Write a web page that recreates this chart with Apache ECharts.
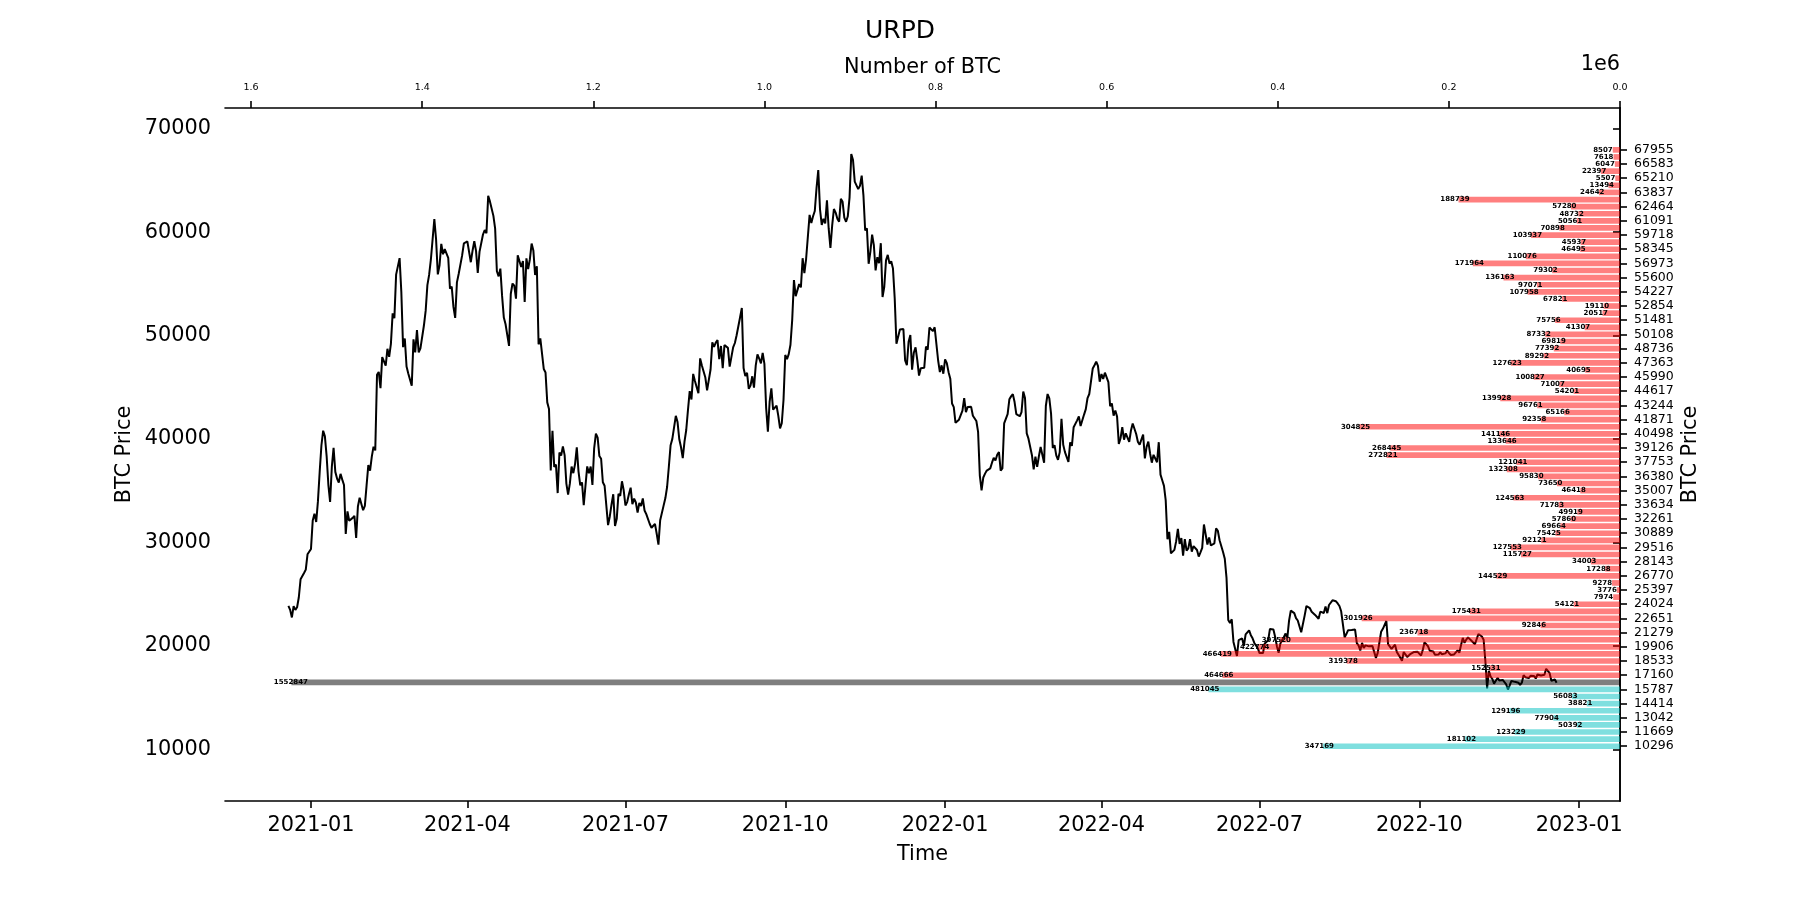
<!DOCTYPE html>
<html>
<head>
<meta charset="utf-8">
<script src="https://cdn.jsdelivr.net/npm/echarts@6/dist/echarts.min.js"></script>
<style>
html,body{margin:0;padding:0;background:#fff;}
#chart{width:1800px;height:900px;}
</style>
</head>
<body>
<div id="chart"></div>
<script>
// ---------------- DATA ----------------
// Daily BTC price, one value per day starting at this date
const priceStartDate = '2020-12-19';
const btcPrice = [
// 2020-12-19 .. 2020-12-31
23870,23480,22750,23840,23480,23730,24700,26440,26250,27040,27370,28850,29000,
// 2021-01
29370,32130,32780,31970,33990,36820,39370,40800,40250,38350,35570,33920,37320,39150,36820,36180,35790,36630,36070,35550,30820,33000,32100,32290,32370,32570,30430,33470,34320,34270,33110,
// 2021-02
33540,35510,37470,36930,38290,39260,38900,46200,46480,44920,47910,47500,47100,48720,47940,49200,52150,51680,55890,56000,57490,54210,48880,49710,47010,46340,46190,45140,
// 2021-03
49630,48380,50540,48370,48760,48880,50970,52380,54880,55860,57330,57230,61250,59300,55910,56800,58870,57860,58350,58310,57520,54530,54740,52770,51700,55140,55950,55980,57750,58920,58920,
// 2021-04
59100,59000,57090,58210,59120,58180,56050,58090,58100,59770,60200,59890,63500,62970,63110,61570,60340,56220,55720,56470,53830,51740,51090,50050,49000,54020,55030,54820,53560,57750,
// 2021-05
57830,56630,57210,53240,57470,56430,57380,58890,58230,55860,56700,49150,49720,49880,46760,46430,43540,42910,36960,40780,37300,37530,34770,38700,38400,39290,38440,35690,34620,35680,37330,
// 2021-06
36700,37570,39190,36850,35520,35800,33590,33470,37350,36690,37340,35550,39100,40520,40140,38350,38090,35820,35480,35600,31680,32510,33680,34660,31590,32280,34700,34490,35910,35040,
// 2021-07
33570,33900,34660,35290,33690,34230,33860,32880,33810,33510,34260,33090,32730,32820,31780,31420,31530,31800,30840,29790,32140,32310,33580,34290,35380,37340,39400,40010,40030,42240,41630,
// 2021-08
39970,39200,38150,39750,40870,42820,44630,43820,46290,45600,45590,44430,47790,47100,47050,45940,44700,44800,46720,49340,48900,49320,49550,47710,48990,46850,49080,48900,48810,46990,47160,
// 2021-09
48850,49280,50030,49940,51770,52660,46860,46080,46400,44850,45160,46060,44960,47090,48180,47780,47310,48310,47260,43000,40700,43580,44890,42840,42720,43210,42240,41030,41520,43790,
// 2021-10
48120,47710,48200,49110,51510,55360,53810,53970,54970,54660,57480,56040,57400,57320,61670,60880,61530,62040,64260,65990,62210,60690,61290,60850,63080,60330,58470,60620,62230,61890,61300,
// 2021-11
61000,63230,62930,61400,61000,61530,63330,67540,66970,64880,64950,64160,64470,65470,63560,60160,60370,56940,58120,59760,58730,56290,57570,56990,58930,53730,54720,57270,57800,56950,
// 2021-12
57180,56480,53600,49200,49370,50580,50470,50640,47590,47140,49390,50050,46700,48340,48860,47630,46130,46830,46680,46880,48940,48630,50780,50820,50430,50800,50640,47590,46470,47120,46310,
// 2022-01
47690,47340,46460,45830,43430,43080,41560,41730,41870,41820,42740,43950,42590,43100,43180,43110,42250,42380,41740,40680,36460,35030,36280,36650,36950,36810,37160,37710,38170,37920,38480,
// 2022-02
38740,36950,37150,41500,41440,42410,43840,44120,44340,43570,42410,42240,42200,42590,44580,43960,40540,40030,40120,38430,37070,38290,37300,38330,39220,39110,37710,43190,
// 2022-03
44350,43920,42450,39140,39400,38420,37990,38730,41940,39440,38730,38810,37790,39670,39340,41140,40950,41800,42190,41250,41080,42360,42890,43960,44350,44500,46820,47130,47470,47060,45540,
// 2022-04
46280,45810,46410,46580,45500,43170,43440,42250,42750,42160,39530,40070,41150,39930,40550,40410,39720,40830,41500,41370,40480,39710,39450,39450,40430,38120,39240,39740,38600,37710,
// 2022-05
38470,38530,37750,39690,36550,36010,35470,34060,30300,31020,28940,29050,29280,30100,31300,29860,30420,28720,30310,29200,29430,30320,29100,29650,29560,29270,28630,29030,29470,31730,31800,
// 2022-06
29800,30470,29700,29860,29910,31370,31130,30210,30110,29080,28420,26570,22490,22210,22570,20380,20470,19020,20550,20720,20720,19990,21110,21230,21500,21030,20730,20280,20100,19780,
// 2022-07
19300,19250,19300,20230,20190,20550,21640,21590,21590,20860,19970,19330,20210,20570,20830,21190,20780,22430,23400,23230,23160,22680,22450,22580,21310,21250,22950,23850,23780,23640,23300,
// 2022-08
23270,22990,22820,22620,23310,23170,23180,23810,23160,23950,23930,24400,24440,24310,24100,23850,23340,23190,20830,21140,21520,21400,21530,21370,21570,20260,20040,19550,20290,19800,20050,
// 2022-09
20130,19950,19830,19990,19800,18840,19290,19320,21360,21650,21830,22400,20170,20230,19700,19800,20110,19420,19540,18880,18550,19410,19300,18930,18800,19230,19080,19410,19590,19420,
// 2022-10
19310,19060,19620,20340,20160,19960,19530,19420,19450,19140,19050,19160,19380,19180,19070,19270,19550,19330,19120,19040,19170,19200,19570,19330,20090,20770,20290,20600,20820,20630,20490,
// 2022-11
20480,20160,20210,21150,21300,20900,20590,18540,15880,17590,17040,16800,16350,16620,16900,16660,16680,16700,16700,16280,15780,16190,16610,16600,16520,16460,16440,16220,16440,17170,
// 2022-12-01 .. 2022-12-19
16970,17090,16890,17110,16970,17090,16840,17230,17130,17130,17090,17210,17780,17810,17360,16630,16780,16740,16440
];

// URPD bins (price level of each bar, bottom to top) and BTC amount in each bin
const binPrice = [
10296,10982,11669,12355,13042,13728,14414,15101,15787,16473,
17160,17846,18533,19219,19906,20592,21279,21965,22651,23338,
24024,24711,25397,26084,26770,27456,28143,28829,29516,30202,
30889,31575,32261,32948,33634,34321,35007,35693,36380,37066,
37753,38439,39126,39812,40498,41185,41871,42558,43244,43930,
44617,45303,45990,46676,47363,48049,48736,49422,50108,50795,
51481,52167,52854,53540,54227,54913,55600,56286,56973,57659,
58345,59032,59718,60404,61091,61777,62464,63150,63837,64523,
65210,65896,66583,67269,67955
];
const binCount = [
347169,181102,123229,50392,77904,129196,38821,56083,481045,1552847,
464666,152531,319378,466419,422774,397520,236718,92846,301926,175431,
54121,7974,3776,9278,144529,17288,34003,115727,127553,92121,
75425,69664,57860,49919,71783,124563,46418,73650,95830,132308,
121041,272821,268445,133646,141146,304825,92358,65166,96761,139928,
54201,71007,100827,40695,127623,89292,77392,69819,87332,41307,
75756,20517,19110,67821,107958,97071,136163,79302,171964,110076,
46495,45937,103937,70898,50561,48732,57280,188739,24642,13494,
5507,22397,6047,7618,8507
];
const currentPriceBin = 16473;   // bin holding the current price (grey)

// Tick labels
const rightTicks = [10296,11669,13042,14414,15787,17160,18533,19906,21279,22651,24024,25397,26770,28143,29516,30889,32261,33634,35007,36380,37753,39126,40498,41871,43244,44617,45990,47363,48736,50108,51481,52854,54227,55600,56973,58345,59718,61091,62464,63837,65210,66583,67955];
const leftTicks = [10000,20000,30000,40000,50000,60000,70000];
const timeTicks = ['2021-01-01','2021-04-01','2021-07-01','2021-10-01','2022-01-01','2022-04-01','2022-07-01','2022-10-01','2023-01-01'];
const topTicks = [0,200000,400000,600000,800000,1000000,1200000,1400000,1600000];

// ---------------- CHART ----------------
const DAY = 86400000;
const FONT = '"DejaVu Sans", "Liberation Sans", sans-serif';
const t0 = Date.parse(priceStartDate + 'T00:00:00Z');
const lineData = btcPrice.map((p, i) => [t0 + i * DAY, p]);
const tEnd = t0 + (btcPrice.length - 1) * DAY;
const span = tEnd - t0;
const xMin = t0 - 0.05 * span, xMax = tEnd + 0.05 * span;
const timeTickVals = timeTicks.map(s => Date.parse(s + 'T00:00:00Z'));
const countMax = Math.max(...binCount) * 1.05;
const binStep = (binPrice[binPrice.length - 1] - binPrice[0]) / (binPrice.length - 1);
const barH = binStep * 0.8;

const chart = echarts.init(document.getElementById('chart'), null, {renderer: 'canvas'});

const axisLineStyle = {show: true, lineStyle: {color: '#000', width: 1.6}};
const tickStyle = {show: true, length: 7, lineStyle: {color: '#000', width: 1.6}};

chart.setOption({
  animation: false,
  backgroundColor: '#fff',
  grid: {left: 225, right: 180, top: 108, bottom: 99, containLabel: false, show: false},
  xAxis: [
    {
      type: 'value', position: 'bottom', min: xMin, max: xMax,
      axisLine: axisLineStyle,
      axisTick: Object.assign({customValues: timeTickVals}, tickStyle),
      axisLabel: {
        customValues: timeTickVals, margin: 14, fontSize: 20.8, fontFamily: FONT, color: '#000',
        formatter: v => new Date(v).toISOString().slice(0, 7)
      },
      splitLine: {show: false}
    },
    {
      type: 'value', position: 'top', min: 0, max: countMax, inverse: true,
      axisLine: axisLineStyle,
      axisTick: Object.assign({customValues: topTicks}, tickStyle),
      axisLabel: {
        customValues: topTicks, margin: 15, fontSize: 9.5, fontFamily: FONT, color: '#000',
        formatter: v => (v / 1e6).toFixed(1)
      },
      splitLine: {show: false}
    }
  ],
  yAxis: [
    {
      type: 'value', position: 'left', min: 5000, max: 72000,
      axisLine: axisLineStyle,
      axisTick: Object.assign({customValues: leftTicks}, tickStyle),
      axisLabel: {customValues: leftTicks, margin: 14, fontSize: 20.8, fontFamily: FONT, color: '#000',
                  padding: [9, 0, 0, 0], formatter: v => String(Math.round(v))},
      splitLine: {show: false}
    },
    {
      type: 'value', position: 'right', min: 5000, max: 72000,
      axisLine: axisLineStyle,
      axisTick: Object.assign({customValues: rightTicks}, tickStyle),
      axisLabel: {customValues: rightTicks, margin: 14, fontSize: 12.5, fontFamily: FONT, color: '#000',
                  padding: [4, 0, 0, 0], formatter: v => String(Math.round(v))},
      splitLine: {show: false}
    }
  ],
  series: [
    {
      type: 'line', xAxisIndex: 0, yAxisIndex: 0, data: lineData,
      showSymbol: false, symbol: 'none',
      lineStyle: {color: '#000', width: 2}, z: 2
    },
    {
      type: 'custom', xAxisIndex: 1, yAxisIndex: 1, z: 3, clip: false,
      data: binPrice.map((p, i) => [binCount[i], p]),
      encode: {x: 0, y: 1},
      renderItem: function (params, api) {
        const cnt = api.value(0), price = api.value(1);
        const pEnd = api.coord([cnt, price]);
        const p0 = api.coord([0, price]);
        const h = Math.abs(api.size([0, barH])[1]);
        let fill = 'rgba(255,0,0,0.5)';
        if (price === currentPriceBin) fill = 'rgba(0,0,0,0.5)';
        else if (price < currentPriceBin) fill = 'rgba(0,191,191,0.5)';
        const txt = String(cnt);
        const off = Math.max(0, txt.length - 4) * 5.5;
        return {
          type: 'group',
          children: [
            {type: 'rect', shape: {x: pEnd[0], y: pEnd[1] - h / 2, width: p0[0] - pEnd[0], height: h},
             style: {fill: fill}},
            {type: 'text', z2: 10,
             style: {text: txt, x: pEnd[0] + off, y: pEnd[1], font: 'bold 7px ' + FONT, fill: '#000',
                     align: 'right', verticalAlign: 'middle', textAlign: 'right', textVerticalAlign: 'middle'}}
          ]
        };
      }
    }
  ],
  graphic: [
    {type: 'text', x: 900, y: 31, style: {text: 'URPD', font: '25px ' + FONT, fill: '#000', align: 'center', verticalAlign: 'middle', textAlign: 'center', textVerticalAlign: 'middle'}},
    {type: 'text', x: 922.5, y: 68, style: {text: 'Number of BTC', font: '20.8px ' + FONT, fill: '#000', align: 'center', verticalAlign: 'middle', textAlign: 'center', textVerticalAlign: 'middle'}},
    {type: 'text', x: 1620, y: 65, style: {text: '1e6', font: '20.8px ' + FONT, fill: '#000', align: 'right', verticalAlign: 'middle', textAlign: 'right', textVerticalAlign: 'middle'}},
    {type: 'text', x: 922.5, y: 855, style: {text: 'Time', font: '20.8px ' + FONT, fill: '#000', align: 'center', verticalAlign: 'middle', textAlign: 'center', textVerticalAlign: 'middle'}},
    {type: 'text', x: 125, y: 454.5, rotation: Math.PI / 2, style: {text: 'BTC Price', font: '20.8px ' + FONT, fill: '#000', align: 'center', verticalAlign: 'middle', textAlign: 'center', textVerticalAlign: 'middle'}},
    {type: 'text', x: 1691, y: 454.5, rotation: Math.PI / 2, style: {text: 'BTC Price', font: '20.8px ' + FONT, fill: '#000', align: 'center', verticalAlign: 'middle', textAlign: 'center', textVerticalAlign: 'middle'}}
  ]
});
</script>
</body>
</html>
